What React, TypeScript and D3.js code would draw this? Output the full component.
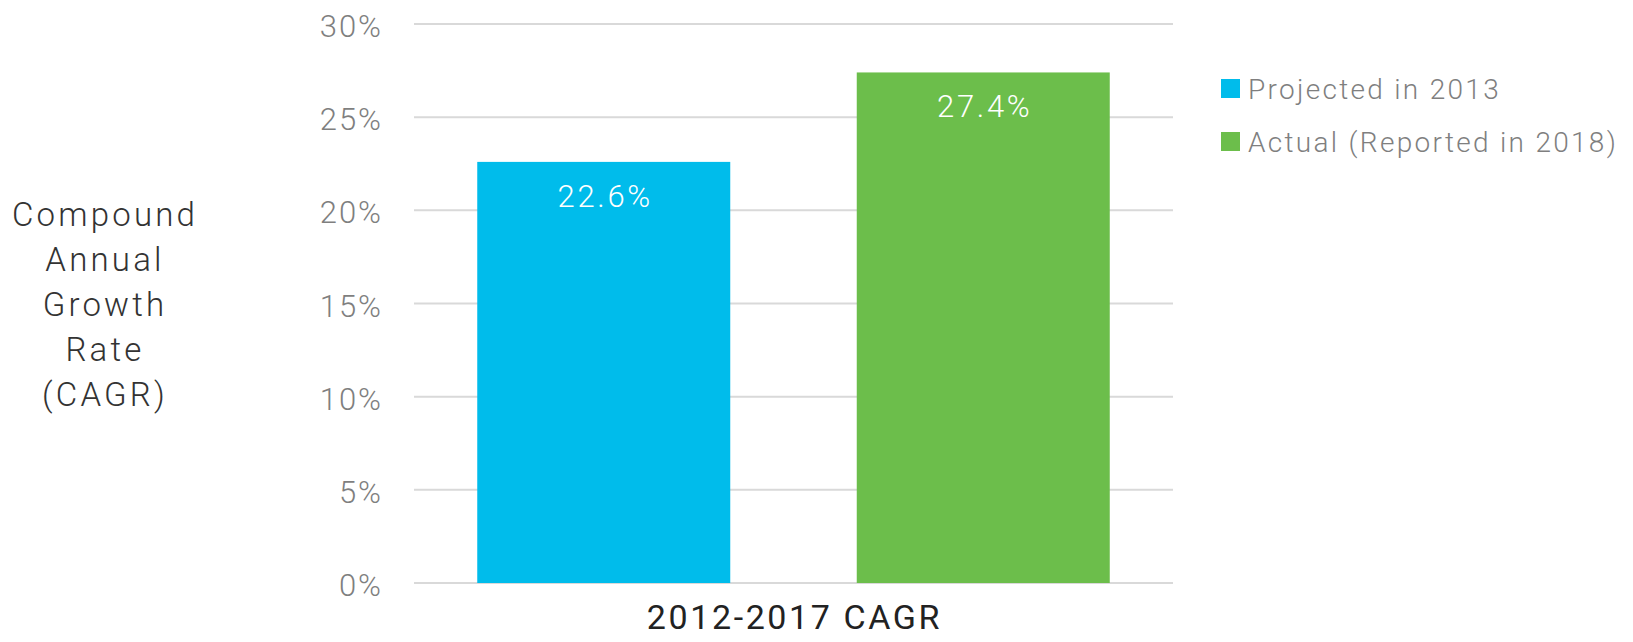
import React, { useRef, useEffect } from 'react';
import * as d3 from 'd3';

const categories = ['2012-2017 CAGR'];
const seriesNames = ['Projected in 2013', 'Actual (Reported in 2018)'];
const seriesValues = [22.6, 27.4];
const seriesColors = ['#00bceb', '#6cbe4b'];
const yTicks = [0, 5, 10, 15, 20, 25, 30];
const yTitleLines = ['Compound', 'Annual', 'Growth', 'Rate', '(CAGR)'];

function App() {
  const svgRef = useRef(null);

  useEffect(() => {
    const svg = d3.select(svgRef.current);
    svg.selectAll('*').remove();

    const width = 1633;
    const height = 642;
    const margin = { top: 24, right: 460, bottom: 59, left: 414 };
    const font = 'Roboto, "Open Sans", sans-serif';

    svg.attr('width', width).attr('height', height);

    const x0 = d3.scaleBand()
      .domain(categories)
      .range([margin.left, width - margin.right])
      .padding(0);

    const x1 = d3.scaleBand()
      .domain(seriesNames)
      .range([0, x0.bandwidth()])
      .paddingInner(1 / 3)
      .paddingOuter(1 / 6);

    const y = d3.scaleLinear()
      .domain([0, 30])
      .range([height - margin.bottom, margin.top]);

    // gridlines
    svg.append('g')
      .selectAll('line')
      .data(yTicks)
      .enter()
      .append('line')
      .attr('x1', margin.left)
      .attr('x2', width - margin.right)
      .attr('y1', d => y(d))
      .attr('y2', d => y(d))
      .attr('stroke', '#d9d9d9')
      .attr('stroke-width', 2);

    // tick labels
    svg.append('g')
      .selectAll('text')
      .data(yTicks)
      .enter()
      .append('text')
      .attr('x', 383)
      .attr('y', d => y(d))
      .attr('dy', '0.42em')
      .attr('text-anchor', 'end')
      .attr('fill', '#7f7f7f')
      .style('font-family', font)
      .style('font-weight', 300)
      .style('font-size', '31px')
      .style('letter-spacing', '2px')
      .text(d => `${d}%`);

    // bars
    const group = svg.append('g')
      .attr('transform', `translate(${x0(categories[0])},0)`);

    group.selectAll('rect')
      .data(seriesValues)
      .enter()
      .append('rect')
      .attr('x', (d, i) => x1(seriesNames[i]))
      .attr('y', d => y(d))
      .attr('width', x1.bandwidth())
      .attr('height', d => y(0) - y(d))
      .attr('fill', (d, i) => seriesColors[i]);

    group.selectAll('text')
      .data(seriesValues)
      .enter()
      .append('text')
      .attr('x', (d, i) => x1(seriesNames[i]) + x1.bandwidth() / 2 + 1.5)
      .attr('y', d => y(d) + 45)
      .attr('text-anchor', 'middle')
      .attr('fill', '#ffffff')
      .style('font-family', font)
      .style('font-weight', 300)
      .style('font-size', '31px')
      .style('letter-spacing', '2.7px')
      .text(d => `${d.toFixed(1)}%`);

    // category label
    svg.append('text')
      .attr('x', x0(categories[0]) + x0.bandwidth() / 2 + 1)
      .attr('y', 629)
      .attr('text-anchor', 'middle')
      .attr('fill', '#222222')
      .style('font-family', font)
      .style('font-size', '34px')
      .style('letter-spacing', '2.6px')
      .text(categories[0]);

    // y title
    svg.append('text')
      .attr('text-anchor', 'middle')
      .attr('fill', '#333333')
      .style('font-family', font)
      .style('font-weight', 300)
      .style('font-size', '33px')
      .style('letter-spacing', '3.2px')
      .selectAll('tspan')
      .data(yTitleLines)
      .enter()
      .append('tspan')
      .attr('x', 105)
      .attr('y', (d, i) => 226 + i * 45)
      .text(d => d);

    // legend
    const legend = svg.append('g')
      .selectAll('g')
      .data(seriesNames)
      .enter()
      .append('g')
      .attr('transform', (d, i) => `translate(1221,${79 + i * 53})`);

    legend.append('rect')
      .attr('width', 19)
      .attr('height', 19)
      .attr('fill', (d, i) => seriesColors[i]);

    legend.append('text')
      .attr('x', 27)
      .attr('y', 20)
      .attr('fill', '#7f7f7f')
      .style('font-family', font)
      .style('font-weight', 300)
      .style('font-size', '28px')
      .style('letter-spacing', '2.3px')
      .text(d => d);
  }, []);

  return (
    <div style={{ position: 'absolute', left: 0, top: 0 }}>
      <svg ref={svgRef}></svg>
    </div>
  );
}

export default App;
